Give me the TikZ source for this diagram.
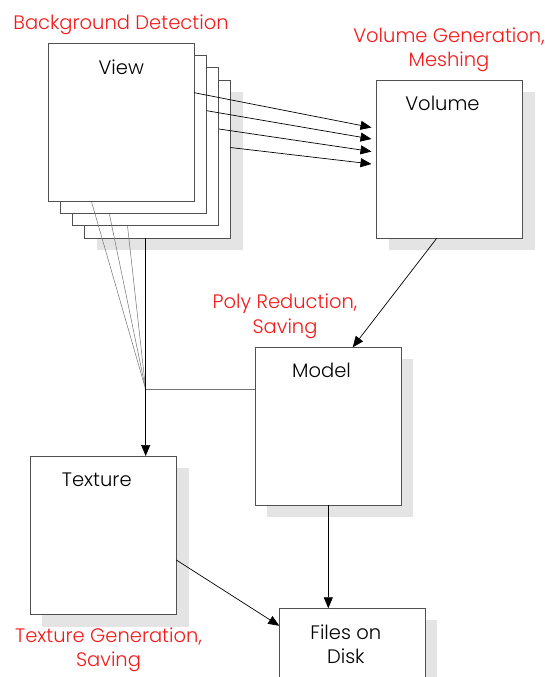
\documentclass[tikz,border=0pt]{standalone}
\usepackage{fontspec}
\setmainfont{Poppins}[UprightFont=* Light]
\usetikzlibrary{arrows.meta,calc}
\definecolor{boxline}{RGB}{80,80,80}
\definecolor{shadowcol}{RGB}{228,228,228}
\definecolor{redtext}{RGB}{245,25,25}
\tikzset{
  boxnode/.style={draw=boxline, line width=0.8pt, fill=white, rectangle, anchor=north west,
    minimum width=146pt, minimum height=158pt, inner sep=0pt, outer sep=0pt},
  boxlabel/.style={label={[font=\fontsize{19.5}{22}\selectfont, text=black, anchor=center, yshift=-23.5pt, xshift=-6.5pt]north:#1}},
  redlabel/.style={font=\fontsize{19.5}{24.5}\selectfont, text=redtext, align=center, inner sep=0pt},
  shadowfill/.style={fill=shadowcol},
  arrowline/.style={draw=black, line width=0.7pt, -{Triangle[length=11pt,width=9pt]}},
  thinline/.style={draw=boxline!80, line width=0.5pt},
  grayline/.style={draw=boxline!80, line width=0.7pt},
}
\begin{document}
\begin{tikzpicture}[x=1pt,y=-1pt]
\useasboundingbox (0,0) rectangle (545,677);
\clip (0,0) rectangle (545,677);
% shadows
\fill[shadowfill] (97,92) rectangle (243,250);
\fill[shadowfill] (389,92) rectangle (535,250);
\fill[shadowfill] (267,359) rectangle (413,517);
\fill[shadowfill] (42,468) rectangle (189,627);
\fill[shadowfill] (291,620) rectangle (437,780);
% view stack
\node[boxnode] (view4) at (84.7,80) {};
\node[boxnode] (view3) at (72.7,67.7) {};
\node[boxnode] (view2) at (60.3,55.7) {};
\node[boxnode, label={[font=\fontsize{19.5}{22}\selectfont, anchor=center, yshift=-23.5pt]north:View}] (view) at (48.3,43.3) {};
% other boxes
\node[boxnode, boxlabel=Volume] (volume) at (376,80.3) {};
\node[boxnode, boxlabel=Model] (model) at (255,347.3) {};
\node[boxnode, boxlabel=Texture] (texture) at (30.3,456) {};
\node[boxnode, label={[font=\fontsize{19.5}{24.5}\selectfont, align=center, anchor=center, yshift=-36pt, xshift=-6.5pt]north:Files on\\Disk}] (files) at (279.3,608.3) {};
% red labels
\node[redlabel] (bgdet) at (121,25) {Background Detection};
\node[redlabel] (volgen) at (449,50) {Volume Generation,\\Meshing};
\node[redlabel] (polyred) at (285,316.5) {Poly Reduction,\\Saving};
\node[redlabel] (texgen) at (108.5,650) {Texture Generation,\\Saving};
% ports
\coordinate (s1) at (194.3,92.7);
\coordinate (s2) at (206.7,110.7);
\coordinate (s3) at (219,129);
\coordinate (s4) at (230.3,147.5);
\coordinate (t1) at (371.5,127.5);
\coordinate (t2) at (371.5,139);
\coordinate (t3) at (371.5,151.5);
\coordinate (t4) at (371.5,164);
\coordinate (b1) at (91.5,201.7);
\coordinate (b2) at (109.3,213.7);
\coordinate (b3) at (127.5,225.8);
\coordinate (b4) at (145.7,238);
\coordinate (j) at (145.7,389.5);
% connectors
\foreach \i in {1,...,4} {\draw[arrowline] (s\i) -- (t\i);}
\foreach \i in {1,2,3} {\draw[thinline] (b\i) -- (j);}
\draw[black, line width=0.8pt] (b4) -- (j);
\draw[arrowline] (j) -- (j |- texture.north);
\draw[grayline] (j) -- (j -| model.west);
\draw[arrowline] ($(volume.south west)+(60.7,0)$) -- ($(model.north west)+(97.7,0)$);
\draw[arrowline] ($(texture.north east)+(0,104)$) -- ($(files.north west)+(0,17.5)$);
\draw[arrowline] (model.south -| 328.3,0) -- (files.north -| 328.3,0);
\end{tikzpicture}
\end{document}
